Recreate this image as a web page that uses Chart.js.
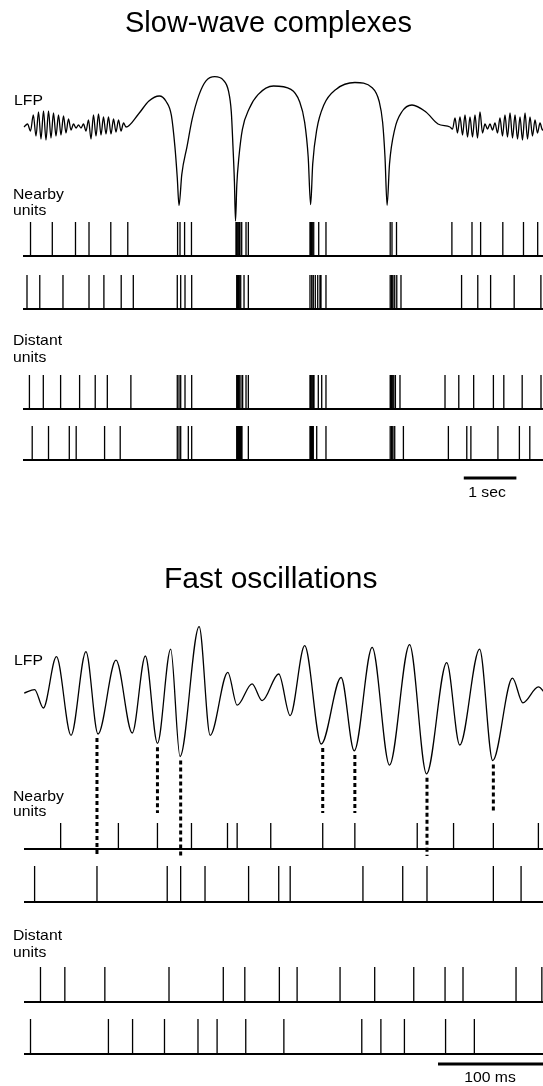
<!DOCTYPE html>
<html>
<head>
<meta charset="utf-8">
<script src="https://cdn.jsdelivr.net/npm/chart.js@4.4.1/dist/chart.umd.min.js"></script>
<style>
  html, body { margin: 0; padding: 0; background: #fff; }
  #wrap { position: relative; width: 543px; height: 1086px; overflow: hidden; }
  #wrap canvas { position: absolute; left: 0; top: 0; }
  .t { position: absolute; white-space: nowrap; font-family: "Liberation Sans", Arial, Helvetica, sans-serif;
       color: #000; line-height: 1; font-size: 15px; transform-origin: 0 0; transform: scaleX(1.05); }
  .title { transform: none; }
  .c { transform-origin: 50% 50%; transform: translateX(-50%) scaleX(1.05); }
</style>
</head>
<body>
<div id="wrap">
  <canvas id="fig" width="543" height="1086"></canvas>
  <div class="t title" style="left:125px; top:7.5px; font-size:29px;">Slow-wave complexes</div>
  <div class="t" style="left:14px; top:92.3px;">LFP</div>
  <div class="t" style="left:13px; top:185.5px;">Nearby</div>
  <div class="t" style="left:13px; top:202px;">units</div>
  <div class="t" style="left:13px; top:332.3px;">Distant</div>
  <div class="t" style="left:13px; top:349px;">units</div>
  <div class="t c" style="left:487px; top:483.5px;">1 sec</div>

  <div class="t title" style="left:164px; top:562.6px; font-size:30px;">Fast oscillations</div>
  <div class="t" style="left:14px; top:652.3px;">LFP</div>
  <div class="t" style="left:13px; top:788px;">Nearby</div>
  <div class="t" style="left:13px; top:803.3px;">units</div>
  <div class="t" style="left:13px; top:927.3px;">Distant</div>
  <div class="t" style="left:13px; top:943.7px;">units</div>
  <div class="t c" style="left:490px; top:1069.3px;">100 ms</div>
</div>
<script>
// ---------- Slow-wave complexes (time in s) ----------
const slowLfpTime = [
  0.019, 0.086, 0.143, 0.196, 0.247, 0.295, 0.342, 0.390, 0.437, 0.485, 0.532, 0.580, 0.627, 0.675,
  0.722, 0.770, 0.817, 0.865, 0.913, 0.960, 1.008, 1.055, 1.103, 1.150, 1.198, 1.245, 1.293, 1.340,
  1.388, 1.435, 1.483, 1.530, 1.578, 1.625, 1.673, 1.721, 1.768, 1.816, 1.863, 1.911, 1.958,
  2.196, 2.394, 2.591, 2.722, 2.821, 2.888, 2.933, 2.966, 3.019, 3.118, 3.217, 3.348, 3.479, 3.645,
  3.808, 3.907, 3.960, 3.992, 4.019, 4.040, 4.065, 4.105, 4.171, 4.302, 4.468, 4.762, 5.093, 5.257,
  5.355, 5.422, 5.468, 5.508, 5.586, 5.719, 5.949, 6.310, 6.639, 6.772, 6.837, 6.882, 6.922, 6.968,
  7.067, 7.200, 7.395, 7.660, 7.890, 8.118,
  8.166, 8.213, 8.260, 8.308, 8.356, 8.403, 8.451, 8.498, 8.546, 8.593, 8.641, 8.688, 8.736, 8.783,
  8.831, 8.878, 8.926, 8.973, 9.021, 9.068, 9.116, 9.163, 9.211, 9.259, 9.306, 9.354, 9.401, 9.449,
  9.496, 9.544, 9.591, 9.639, 9.686, 9.734, 9.781, 9.829, 9.876, 9.924
];
const slowLfpValue = [
  0, 3, -4, 12, -9, 15, -12, 16, -13, 16, -11, 14, -9, 12,
  -8, 11, -6, 8, -3, 3, -1, 2, -1, 3, -4, 7, -12, 12,
  -9, 13, -8, 10, -7, 10, -7, 8, -5, 7, -4, 4, 0,
  13, 26, 31, 25.5, 11.6, -19.6, -50.7, -78.4, -47.3, -19.6, 8.1, 32.4, 46.2, 50.4,
  46.9, 35.8, 15.1, -19.6, -54.2, -94, -57.7, -30, -2.3, 18.5, 32.4, 41, 37.6, 25.5,
  4.7, -30, -77.7, -36.9, -2.3, 22, 37.6, 44.5, 39.3, 25.5, 4.7, -30, -78.4, -36.9,
  -2.3, 15, 22, 15, 3, 0,
  -2, 9, -6, 10, -8, 12, -10, 10, -10, 12, -11, 15, -6, 3,
  -2, 3, -3, 4, -6, 9, -9, 12, -10, 14, -11, 12, -12, 10,
  -13, 14, -12, 10, -9, 7, -6, 4, -3, 2
];
const slowNearby1 = [0.143, 0.557, 0.998, 1.255, 1.669, 1.992, 2.939, 2.985, 3.072, 3.203,
  4.049, 4.074, 4.101, 4.125, 4.158, 4.240, 4.284, 5.456, 5.475, 5.500, 5.527, 5.622, 5.760,
  6.981, 7.015, 7.101, 8.154, 8.536, 8.700, 9.122, 9.515, 9.785];
const slowNearby2 = [0.076, 0.319, 0.760, 1.255, 1.538, 1.867, 2.097, 2.933, 2.998, 3.080, 3.207,
  4.063, 4.087, 4.112, 4.139, 4.202, 4.284, 5.456, 5.489, 5.519, 5.557, 5.603, 5.646, 5.665, 5.760,
  6.981, 7.008, 7.034, 7.067, 7.106, 7.186, 8.338, 8.646, 8.890, 9.338, 9.846];
const slowDistant1 = [0.122, 0.386, 0.715, 1.076, 1.373, 1.603, 2.051, 2.933, 2.966, 2.998, 3.080, 3.207,
  4.063, 4.087, 4.112, 4.144, 4.176, 4.240, 4.284, 5.456, 5.481, 5.508, 5.532, 5.614, 5.679, 5.760,
  6.981, 7.002, 7.021, 7.048, 7.080, 7.167, 8.023, 8.285, 8.568, 8.943, 9.141, 9.490, 9.848];
const slowDistant2 = [0.175, 0.485, 0.880, 1.011, 1.551, 1.848, 2.933, 2.966, 2.998, 3.143, 3.207,
  4.063, 4.082, 4.101, 4.125, 4.144, 4.163, 4.284, 5.456, 5.475, 5.494, 5.519, 5.584, 5.760,
  6.981, 7.008, 7.034, 7.067, 7.232, 8.087, 8.437, 8.515, 9.029, 9.437, 9.635];
const slowBarStart = 8.38;   // s
const slowBarLength = 1;     // s  ("1 sec")

// ---------- Fast oscillations (time in ms) ----------
const fastLfpTime = [0.2, 10.1, 18.4, 30.9, 44.8, 59.0, 70.5, 87.6, 103.1, 115.6, 127.1, 139.7, 148.6,
  166.8, 177.3, 194.1, 203.0, 217.2, 226.8, 242.6, 253.5, 267.3, 283.1, 302.0, 314.5, 331.6, 348.1,
  367.2, 383.4, 402.6, 415.0, 433.9, 446.4, 465.2, 475.1, 489.9, 496.2];
const fastLfpValue = [6.9, 10.4, -8, 43.3, -35.3, 48.4, -34, 39.8, -33, 44, -43.3, 50.9, -56.5,
  73.4, -35.3, 27.7, -5.2, 16.2, -0.7, 26, -15.6, 54.3, -44, 22.5, -50.9, 52.6, -65.1,
  55.4, -73.8, 37.4, -45, 50.9, -60.6, 21.8, -2.8, 13.1, 7];
const fastNearby1 = [34.9, 89.9, 127.1, 159.5, 193.8, 203.0, 235.0, 284.5, 315.1, 374.5, 409.1, 447.0, 489.9];
const fastNearby2 = [10.1, 69.5, 136.4, 149.2, 172.4, 213.9, 242.6, 253.5, 322.8, 360.7, 383.8, 447.0, 473.4];
const fastDistant1 = [15.7, 38.9, 77.0, 138.1, 189.8, 210.3, 243.2, 260.1, 301.0, 334.0, 371.2, 401.0, 418.1, 468.6, 493.2];
const fastDistant2 = [6.2, 80.4, 103.4, 133.8, 165.7, 183.9, 211.2, 247.5, 321.7, 339.9, 362.3, 401.5, 428.9];
// spikes tied to an LFP trough by a dotted guide, and the nearby-unit row they sit in
const fastLinkTime = [69.5, 127.1, 149.2, 284.5, 315.1, 383.8, 447.0];
const fastLinkRow = [2, 1, 2, 1, 1, 2, 1];
const fastBarStart = 394.3;  // ms
const fastBarLength = 100;   // ms  ("100 ms")

// ---------- layout ----------
const W = 543, H = 1086;

// linear x scale that puts value v1 at pixel p1 and v2 at pixel p2
function xScale(v1, p1, v2, p2) {
  const k = (v2 - v1) / (p2 - p1);
  const min = v1 - p1 * k;
  return { type: 'linear', axis: 'x', display: false, min: min, max: min + W * k };
}
// linear y scale that puts value v1 at pixel p1 and v2 at pixel p2
function yScale(v1, p1, v2, p2) {
  const k = (v1 - v2) / (p2 - p1);
  const max = v1 + p1 * k;
  return { type: 'linear', axis: 'y', display: false, min: max - H * k, max: max };
}
// raster row: value 0 on the baseline, 1 at the spike tips
const row = (top, base) => yScale(1, top, 0, base);

const scales = {
  xSlow: xScale(0, 23, 1, 75.6),
  xFast: xScale(0, 24, 100, 129),
  ySlowLfp: yScale(0, 127, -100, 227),
  ySlowN1: row(222, 256),
  ySlowN2: row(275, 309),
  ySlowD1: row(375, 409),
  ySlowD2: row(426, 460),
  ySlowBar: yScale(0, 478, 1, 477),
  yFastLfp: yScale(0, 700, -100, 800),
  yFastN1: row(823, 849),
  yFastN2: row(866, 902),
  yFastD1: row(967, 1002),
  yFastD2: row(1019, 1054),
  yFastBar: yScale(0, 1064, 1, 1063)
};
const fastRowAxis = { 1: 'yFastN1', 2: 'yFastN2' };

const trace = (xs, ys) => xs.map((t, i) => ({ x: t, y: ys[i] }));
const spikes = ts => ts.flatMap(t => [{ x: t, y: 0 }, { x: t, y: 1 }, { x: t, y: null }]);

function lfpSet(data, xAxisID, yAxisID) {
  return { data, xAxisID, yAxisID, borderColor: '#000', borderWidth: 1.3,
           cubicInterpolationMode: 'monotone', pointRadius: 0, fill: false };
}
function spikeSet(times, xAxisID, yAxisID) {
  return { data: spikes(times), xAxisID, yAxisID, borderColor: '#000', borderWidth: 1.3,
           tension: 0, pointRadius: 0, spanGaps: false, fill: false };
}
function baseSet(from, to, xAxisID, yAxisID) {
  return { data: [{ x: from, y: 0 }, { x: to, y: 0 }], xAxisID, yAxisID,
           borderColor: '#000', borderWidth: 1.8, pointRadius: 0, fill: false };
}
function barSet(start, len, xAxisID, yAxisID) {
  return { data: [{ x: start, y: 0 }, { x: start + len, y: 0 }], xAxisID, yAxisID,
           borderColor: '#000', borderWidth: 3, borderCapStyle: 'butt', pointRadius: 0, fill: false };
}

const slowEnd = scales.xSlow.max + 1, fastEnd = scales.xFast.max + 10;
const datasets = [
  lfpSet(trace(slowLfpTime, slowLfpValue), 'xSlow', 'ySlowLfp'),
  baseSet(0, slowEnd, 'xSlow', 'ySlowN1'), spikeSet(slowNearby1, 'xSlow', 'ySlowN1'),
  baseSet(0, slowEnd, 'xSlow', 'ySlowN2'), spikeSet(slowNearby2, 'xSlow', 'ySlowN2'),
  baseSet(0, slowEnd, 'xSlow', 'ySlowD1'), spikeSet(slowDistant1, 'xSlow', 'ySlowD1'),
  baseSet(0, slowEnd, 'xSlow', 'ySlowD2'), spikeSet(slowDistant2, 'xSlow', 'ySlowD2'),
  barSet(slowBarStart, slowBarLength, 'xSlow', 'ySlowBar'),

  lfpSet(trace(fastLfpTime, fastLfpValue), 'xFast', 'yFastLfp'),
  baseSet(0, fastEnd, 'xFast', 'yFastN1'), spikeSet(fastNearby1, 'xFast', 'yFastN1'),
  baseSet(0, fastEnd, 'xFast', 'yFastN2'), spikeSet(fastNearby2, 'xFast', 'yFastN2'),
  baseSet(0, fastEnd, 'xFast', 'yFastD1'), spikeSet(fastDistant1, 'xFast', 'yFastD1'),
  baseSet(0, fastEnd, 'xFast', 'yFastD2'), spikeSet(fastDistant2, 'xFast', 'yFastD2'),
  barSet(fastBarStart, fastBarLength, 'xFast', 'yFastBar')
];

// dotted guides from an LFP trough down to the spike fired at that moment
const troughGuides = {
  id: 'troughGuides',
  afterDatasetsDraw(chart) {
    const { ctx } = chart;
    const xs = chart.scales.xFast, yl = chart.scales.yFastLfp;
    ctx.save();
    ctx.strokeStyle = '#000';
    ctx.lineWidth = 3;
    ctx.setLineDash([4, 3]);
    fastLinkTime.forEach((t, i) => {
      let j = 0;
      fastLfpTime.forEach((u, k) => { if (Math.abs(u - t) < Math.abs(fastLfpTime[j] - t)) j = k; });
      const x = xs.getPixelForValue(t);
      const y0 = yl.getPixelForValue(fastLfpValue[j]) + 4;
      const y1 = chart.scales[fastRowAxis[fastLinkRow[i]]].getPixelForValue(1) - 10;
      ctx.beginPath();
      ctx.moveTo(x, y0);
      ctx.lineTo(x, y1);
      ctx.stroke();
    });
    ctx.restore();
  }
};

new Chart(document.getElementById('fig'), {
  type: 'line',
  data: { datasets },
  options: {
    responsive: false,
    animation: false,
    events: [],
    devicePixelRatio: 1,
    layout: { padding: 0 },
    plugins: { legend: { display: false }, tooltip: { enabled: false } },
    scales
  },
  plugins: [troughGuides]
});
</script>
</body>
</html>
